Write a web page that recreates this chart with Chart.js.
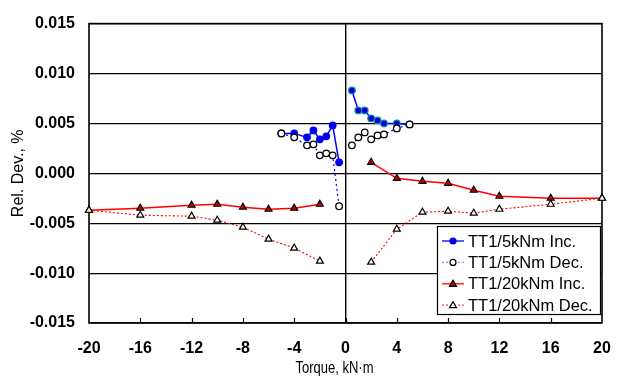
<!DOCTYPE html>
<html>
<head>
<meta charset="utf-8">
<script src="https://cdn.jsdelivr.net/npm/chart.js@4"></script>
<style>
  html, body { margin: 0; padding: 0; background: #fff; }
  #chart { display: block; }
</style>
</head>
<body>
<canvas id="chart" width="621" height="379"></canvas>
<script>
// ====================================
// DATA
// ====================================
const torque5 = [-5, -4, -3, -2.5, -2, -1.5, -1, -0.5, 0, 0.5, 1, 1.5, 2, 2.5, 3, 4, 5];
const inc5 = [0.0040, 0.0040, 0.0036, 0.0043, 0.0034, 0.0037, 0.0048, 0.0011, null,
  0.0083, 0.0063, 0.0063, 0.0055, 0.0053, 0.0050, 0.0050, 0.0049];
const dec5 = [0.0040, 0.0036, 0.0028, 0.0029, 0.0018, 0.0020, 0.0018, -0.0033, null,
  0.0028, 0.0036, 0.0041, 0.0034, 0.0038, 0.0039, 0.0045, 0.0049];

const torque20 = [-20, -16, -12, -10, -8, -6, -4, -2, 0, 2, 4, 6, 8, 10, 12, 16, 20];
const inc20 = [-0.0037, -0.0035, -0.0032, -0.0031, -0.0034, -0.0036, -0.0035, -0.0031, null,
  0.0011, -0.0005, -0.0008, -0.0010, -0.0017, -0.0023, -0.0025, -0.0025];
const dec20 = [-0.0037, -0.0042, -0.0043, -0.0047, -0.0054, -0.0066, -0.0075, -0.0088, null,
  -0.0089, -0.0056, -0.0039, -0.0038, -0.0040, -0.0036, -0.0031, -0.0025];

const xTicks = [-20, -16, -12, -8, -4, 0, 4, 8, 12, 16, 20];
const yTicks = [-0.015, -0.010, -0.005, 0, 0.005, 0.010, 0.015];

const FONT = "'Liberation Sans', Arial, sans-serif";

function pts(xs, ys) {
  return xs.map(function (x, i) {
    return { x: x, y: ys[i] };
  });
}

// ====================================
// PLUGINS: frame, inward ticks, axis title, legend box
// ====================================
const framePlugin = {
  id: "frame",
  beforeDatasetsDraw: function (chart) {
    const ctx = chart.ctx;
    const a = chart.chartArea;
    const xs = chart.scales.x;
    ctx.save();
    ctx.strokeStyle = "#000";
    ctx.lineWidth = 1.2;
    xTicks.forEach(function (v) {
      if (v === xTicks[0] || v === xTicks[xTicks.length - 1]) return;
      const px = Math.round(xs.getPixelForValue(v)) + 0.5;
      ctx.beginPath();
      ctx.moveTo(px, a.bottom);
      ctx.lineTo(px, a.bottom - 5);
      ctx.stroke();
    });
    ctx.lineWidth = 1.6;
    ctx.strokeRect(a.left, a.top, a.right - a.left, a.bottom - a.top);

    // x axis title (the original face is a bit narrow, so squeeze it)
    const text = "Torque, kN\u00b7m";
    ctx.fillStyle = "#000";
    ctx.font = "16px " + FONT;
    ctx.textAlign = "center";
    ctx.textBaseline = "middle";
    const w = ctx.measureText(text).width;
    const sx = 78 / w;
    ctx.translate((a.left + a.right) / 2 - 11, 369);
    ctx.scale(sx, 1);
    ctx.fillText(text, 0, 0);
    ctx.restore();
  },
};

function drawMarker(ctx, style, x, y, fill, stroke) {
  ctx.beginPath();
  if (style === "circle") {
    ctx.arc(x, y, 3, 0, Math.PI * 2);
  } else {
    ctx.moveTo(x, y - 3.5);
    ctx.lineTo(x + 3.5, y + 2.5);
    ctx.lineTo(x - 3.5, y + 2.5);
    ctx.closePath();
  }
  ctx.fillStyle = fill;
  ctx.fill();
  ctx.lineWidth = 1.2;
  ctx.strokeStyle = stroke;
  ctx.stroke();
}

const legendPlugin = {
  id: "boxLegend",
  afterDatasetsDraw: function (chart) {
    const ctx = chart.ctx;
    const a = chart.chartArea;
    const left = 437, top = 226, right = a.right - 2, bottom = 314;
    const rows = [
      { label: "TT1/5kNm Inc.", line: "#0000ff", dash: [], marker: "circle", fill: "#0000cc", stroke: "#0000ff" },
      { label: "TT1/5kNm Dec.", line: "#8c8cff", dash: [2, 2], marker: "circle", fill: "#fff", stroke: "#000" },
      { label: "TT1/20kNm Inc.", line: "#ff0000", dash: [], marker: "triangle", fill: "#cc0000", stroke: "#000" },
      { label: "TT1/20kNm Dec.", line: "#ff4040", dash: [2, 2], marker: "triangle", fill: "#fff", stroke: "#000" },
    ];
    ctx.save();
    ctx.fillStyle = "#fff";
    ctx.fillRect(left, top, right - left, bottom - top);
    ctx.strokeStyle = "#000";
    ctx.lineWidth = 1.2;
    ctx.strokeRect(left + 0.5, top + 0.5, right - left, bottom - top);

    rows.forEach(function (r, i) {
      const cy = 241 + i * 21.4;
      ctx.strokeStyle = r.line;
      ctx.lineWidth = 1.3;
      ctx.setLineDash(r.dash);
      ctx.beginPath();
      ctx.moveTo(442, cy);
      ctx.lineTo(464, cy);
      ctx.stroke();
      ctx.setLineDash([]);
      drawMarker(ctx, r.marker, 453, cy, r.fill, r.stroke);
      ctx.fillStyle = "#000";
      ctx.font = "16.5px " + FONT;
      ctx.textAlign = "left";
      ctx.textBaseline = "middle";
      ctx.fillText(r.label, 468, cy + 1);
    });
    ctx.restore();
  },
};

// ====================================
// CHART
// ====================================
const ctx = document.getElementById("chart").getContext("2d");

new Chart(ctx, {
  type: "line",
  data: {
    datasets: [
      {
        label: "TT1/5kNm Inc.",
        data: pts(torque5, inc5),
        order: 1,
        borderColor: "#0000ff",
        borderWidth: 1.5,
        pointStyle: "circle",
        pointRadius: 3.3,
        pointBorderWidth: 1.2,
        pointBackgroundColor: "#0000dd",
        pointBorderColor: function (c) {
          return c.raw && c.raw.x > 0 ? "#128a9c" : "#0000ff";
        },
      },
      {
        label: "TT1/5kNm Dec.",
        data: pts(torque5, dec5),
        order: 0,
        borderColor: "#0000ff",
        borderWidth: 1.2,
        borderDash: [2, 3],
        pointStyle: "circle",
        pointRadius: 3.3,
        pointBorderWidth: 1.3,
        pointBackgroundColor: "#ffffff",
        pointBorderColor: "#000000",
      },
      {
        label: "TT1/20kNm Inc.",
        data: pts(torque20, inc20),
        order: 1,
        borderColor: "#ff0000",
        borderWidth: 1.5,
        pointStyle: "triangle",
        pointRadius: 4,
        pointBorderWidth: 1.2,
        pointBackgroundColor: "#cc0000",
        pointBorderColor: "#000000",
      },
      {
        label: "TT1/20kNm Dec.",
        data: pts(torque20, dec20),
        order: 0,
        borderColor: "#ff0000",
        borderWidth: 1.1,
        borderDash: [2, 2],
        pointStyle: "triangle",
        pointRadius: 4,
        pointBorderWidth: 1.2,
        pointBackgroundColor: "#ffffff",
        pointBorderColor: "#000000",
      },
    ],
  },
  options: {
    responsive: false,
    animation: false,
    spanGaps: false,
    clip: false,
    layout: { padding: { left: 0, right: 19, top: 15, bottom: 0 } },
    plugins: {
      legend: { display: false },
      tooltip: { enabled: false },
    },
    elements: { line: { tension: 0 } },
    scales: {
      x: {
        type: "linear",
        min: -20,
        max: 20,
        afterBuildTicks: function (scale) {
          scale.ticks = xTicks.map(function (v) { return { value: v }; });
        },
        afterFit: function (scale) {
          scale.height = 56;
          // keep the tick padding from widening the side margins
          scale.paddingLeft = 10;
          scale.paddingRight = 10;
        },
        grid: {
          drawTicks: false,
          lineWidth: 1.4,
          color: function (c) {
            return c.tick && c.tick.value === 0 ? "#000" : "rgba(0,0,0,0)";
          },
        },
        border: { display: false },
        ticks: {
          color: "#000",
          padding: 16,
          maxRotation: 0,
          font: { family: FONT, size: 16, weight: "bold" },
          callback: function (v) { return String(v); },
        },
      },
      y: {
        type: "linear",
        min: -0.015,
        max: 0.015,
        afterBuildTicks: function (scale) {
          scale.ticks = yTicks.map(function (v) { return { value: v }; });
        },
        afterFit: function (scale) {
          scale.width = 89;
        },
        grid: {
          drawTicks: false,
          lineWidth: 1.2,
          color: "#000",
        },
        border: { display: false },
        ticks: {
          color: "#000",
          padding: 14,
          font: { family: FONT, size: 16, weight: "bold" },
          callback: function (v) {
            return Math.abs(v) < 1e-9 ? "0.000" : v.toFixed(3);
          },
        },
        title: {
          display: true,
          text: "Rel. Dev., %",
          color: "#000",
          padding: { top: 9, bottom: 0 },
          font: { family: FONT, size: 16 },
        },
      },
    },
  },
  plugins: [framePlugin, legendPlugin],
});
</script>
</body>
</html>
